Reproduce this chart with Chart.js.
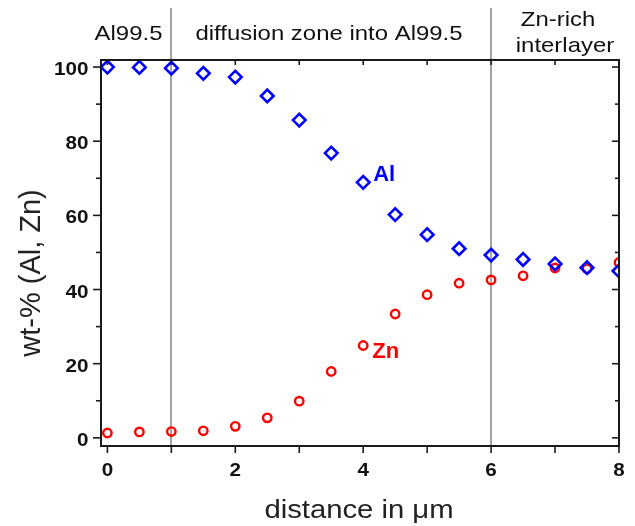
<!DOCTYPE html>
<html>
<head>
<meta charset="utf-8">
<script src="https://cdn.jsdelivr.net/npm/chart.js@4/dist/chart.umd.min.js"></script>
<style>
  html, body { margin: 0; padding: 0; background: #fff; }
  #wrap { width: 635px; height: 526px; }
</style>
</head>
<body>
<div id="wrap"><canvas id="c" width="635" height="526"></canvas></div>
<script>
// Measured composition profile across the Al99.5 / Zn-rich interlayer.
const distance = [0, 0.5, 1, 1.5, 2, 2.5, 3, 3.5, 4, 4.5, 5, 5.5, 6, 6.5, 7, 7.5, 8];
const alWt = [100, 99.9, 99.7, 98.3, 97.3, 92.2, 85.7, 76.8, 68.9, 60.2, 54.8, 51.0, 49.3, 48.1, 46.9, 45.9, 45.0];
const znWt = [1.3, 1.6, 1.7, 1.9, 3.1, 5.4, 9.9, 17.9, 24.9, 33.4, 38.6, 41.7, 42.6, 43.7, 45.8, 45.6, 47.3];

const xTicks = [0, 1, 2, 3, 4, 5, 6, 7, 8];
const xLabelTicks = [0, 2, 4, 6, 8];
const yTicks = [0, 10, 20, 30, 40, 50, 60, 70, 80, 90, 100];
const yLabelTicks = [0, 20, 40, 60, 80, 100];

const zoneBounds = [1, 6];
const zoneNames = ['Al99.5', 'diffusion zone into Al99.5', ['Zn-rich', 'interlayer']];
const seriesNames = ['Al', 'Zn'];
const labelAtDistance = 4;

const FONT = '"Liberation Sans", Arial, sans-serif';
const INK = '#1a1a1a';
const WIDE = 1.14;   // horizontal widening used for all lettering

function wideText(ctx, str, x, y, sx, align) {
  ctx.save();
  ctx.translate(x, y);
  ctx.scale(sx, 1);
  ctx.textAlign = align;
  ctx.fillText(str, 0, 0);
  ctx.restore();
}

function line(ctx, x0, y0, x1, y1) {
  ctx.beginPath();
  ctx.moveTo(x0, y0);
  ctx.lineTo(x1, y1);
  ctx.stroke();
}

const overlay = {
  id: 'overlay',
  beforeDatasetsDraw(chart) {
    const { ctx, chartArea: a, scales: { x } } = chart;
    ctx.save();
    ctx.strokeStyle = '#a3a3a3';
    ctx.lineWidth = 2;
    zoneBounds.forEach(v => {
      const px = Math.round(x.getPixelForValue(v));
      line(ctx, px, 8, px, a.bottom);
    });
    ctx.restore();
  },
  afterDraw(chart) {
    const { ctx, chartArea: a, scales: { x, y } } = chart;
    ctx.save();

    // frame
    ctx.strokeStyle = INK;
    ctx.lineWidth = 2;
    ctx.strokeRect(a.left, a.top, a.right - a.left, a.bottom - a.top);

    // ticks: outward on left/bottom, inward on top/right
    ctx.lineWidth = 1.6;
    xTicks.forEach(v => {
      const px = x.getPixelForValue(v);
      line(ctx, px, a.bottom, px, a.bottom + 7);
      line(ctx, px, a.top, px, a.top + 5);
    });
    yTicks.forEach(v => {
      const py = y.getPixelForValue(v);
      const major = yLabelTicks.includes(v);
      line(ctx, a.left, py, a.left - (major ? 8 : 5), py);
      line(ctx, a.right, py, a.right - (major ? 7 : 4), py);
    });

    // tick labels
    ctx.fillStyle = '#111';
    ctx.font = 'bold 17.5px ' + FONT;
    ctx.textBaseline = 'alphabetic';
    xLabelTicks.forEach(v => {
      wideText(ctx, String(v), x.getPixelForValue(v), 476, 1.18, 'center');
    });
    yLabelTicks.forEach(v => {
      wideText(ctx, String(v), 88.5, y.getPixelForValue(v) + 8, 1.18, 'right');
    });

    // zone headings
    ctx.fillStyle = '#111';
    ctx.font = '21px ' + FONT;
    wideText(ctx, zoneNames[0], 128.5, 40, WIDE, 'center');
    wideText(ctx, zoneNames[1], 329, 40, WIDE, 'center');
    wideText(ctx, zoneNames[2][0], 558, 26, WIDE, 'center');
    wideText(ctx, zoneNames[2][1], 565, 52, WIDE, 'center');

    // axis titles
    ctx.fillStyle = '#222';
    ctx.font = '25px ' + FONT;
    wideText(ctx, 'distance in \u03bcm', 359, 518, 1.17, 'center');
    ctx.save();
    ctx.translate(32, 273);
    ctx.rotate(-Math.PI / 2);
    ctx.font = '29px ' + FONT;
    ctx.textAlign = 'center';
    ctx.textBaseline = 'middle';
    ctx.fillText('wt-% (Al, Zn)', 0, 0);
    ctx.restore();

    // series labels next to the point at 4 µm
    const i = distance.indexOf(labelAtDistance);
    ctx.font = 'bold 22px ' + FONT;
    ctx.textAlign = 'left';
    ctx.textBaseline = 'middle';
    ctx.fillStyle = '#0000ff';
    ctx.fillText(seriesNames[0], x.getPixelForValue(distance[i]) + 10, y.getPixelForValue(alWt[i]) - 7);
    ctx.fillStyle = '#ff0000';
    ctx.fillText(seriesNames[1], x.getPixelForValue(distance[i]) + 9, y.getPixelForValue(znWt[i]) + 6);
    ctx.restore();
  }
};

new Chart(document.getElementById('c'), {
  type: 'scatter',
  data: {
    datasets: [
      {
        label: seriesNames[0],
        data: distance.map((d, k) => ({ x: d, y: alWt[k] })),
        pointStyle: 'rectRot',
        pointRadius: 6.3,
        pointBorderWidth: 2.6,
        borderColor: '#0000ff',
        backgroundColor: 'rgba(0,0,0,0)',
        clip: { left: 2, top: 2, right: 0, bottom: 2 }
      },
      {
        label: seriesNames[1],
        data: distance.map((d, k) => ({ x: d, y: znWt[k] })),
        pointStyle: 'circle',
        pointRadius: 4.2,
        pointBorderWidth: 2.4,
        borderColor: '#ff0000',
        backgroundColor: 'rgba(0,0,0,0)',
        clip: { left: 2, top: 2, right: 0, bottom: 2 }
      }
    ]
  },
  options: {
    responsive: false,
    animation: false,
    events: [],
    layout: { padding: { left: 0, top: 60, right: 16, bottom: 0 } },
    plugins: { legend: { display: false }, tooltip: { enabled: false } },
    scales: {
      x: {
        type: 'linear',
        min: -0.1,
        max: 8,
        afterBuildTicks: s => { s.ticks = xTicks.map(v => ({ value: v })); },
        afterFit: s => { s.height = 80; },
        ticks: { display: false },
        grid: { display: false },
        border: { display: false }
      },
      y: {
        type: 'linear',
        min: -2.2,
        max: 101.9,
        afterBuildTicks: s => { s.ticks = yTicks.map(v => ({ value: v })); },
        afterFit: s => { s.width = 101; },
        ticks: { display: false },
        grid: { display: false },
        border: { display: false }
      }
    }
  },
  plugins: [overlay]
});
</script>
</body>
</html>
